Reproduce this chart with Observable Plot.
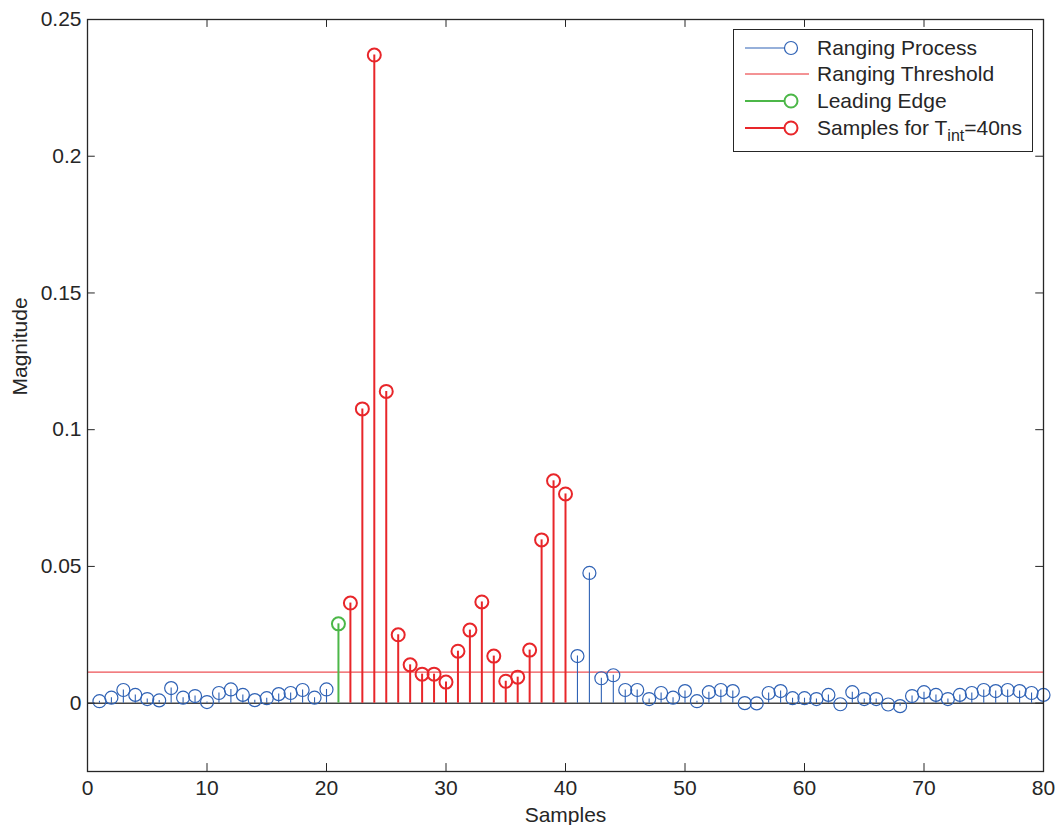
<!DOCTYPE html>
<html>
<head>
<meta charset="utf-8">
<script src="https://cdn.jsdelivr.net/npm/d3@7"></script>
<script src="https://cdn.jsdelivr.net/npm/@observablehq/plot@0.6"></script>
<style>
  html, body { margin: 0; padding: 0; background: #fff; }
  #wrap { position: relative; width: 1055px; height: 825px; font-family: "Liberation Sans", Arial, sans-serif; }
  #legend { position: absolute; left: 733px; top: 29px; width: 300px; height: 123px; border: 1.3px solid #262626; background: #fff; box-sizing: border-box; font-size: 21px; color: #262626; }
  .row { position: absolute; left: 0; height: 27px; display: flex; align-items: center; }
  .row svg { margin-left: 11px; }
  .row span { margin-left: 22px; white-space: nowrap; }
  sub { font-size: 16px; vertical-align: -6px; line-height: 0; }
</style>
</head>
<body>
<div id="wrap"></div>
<script>
// ---- data ----
const samples = [1,2,3,4,5,6,7,8,9,10,11,12,13,14,15,16,17,18,19,20,
  21,22,23,24,25,26,27,28,29,30,31,32,33,34,35,36,37,38,39,40,
  41,42,43,44,45,46,47,48,49,50,51,52,53,54,55,56,57,58,59,60,
  61,62,63,64,65,66,67,68,69,70,71,72,73,74,75,76,77,78,79,80];
const magnitude = [0.0007,0.0020,0.0048,0.0030,0.0015,0.0010,0.0055,0.0020,0.0026,0.0004,
  0.0037,0.0050,0.0030,0.0011,0.0018,0.0033,0.0037,0.0048,0.0020,0.0050,
  0.0290,0.0366,0.1076,0.2370,0.1140,0.0250,0.0140,0.0106,0.0106,0.0077,
  0.0190,0.0267,0.0370,0.0172,0.0080,0.0095,0.0194,0.0597,0.0813,0.0765,
  0.0172,0.0476,0.0091,0.0102,0.0048,0.0048,0.0015,0.0037,0.0020,0.0044,
  0.0007,0.0040,0.0048,0.0044,0.0000,-0.0001,0.0037,0.0044,0.0018,0.0018,
  0.0015,0.0030,-0.0004,0.0040,0.0015,0.0015,-0.0005,-0.0011,0.0026,0.0040,
  0.0030,0.0015,0.0030,0.0037,0.0048,0.0044,0.0048,0.0044,0.0037,0.0030];
const leadingEdge = [21];
const tintSamples = [22,23,24,25,26,27,28,29,30,31,32,33,34,35,36,37,38,39,40];
const threshold = [0.01135];
const xTicks = [0,10,20,30,40,50,60,70,80];
const yTicks = [0,0.05,0.1,0.15,0.2,0.25];
const yTickLabels = ["0","0.05","0.1","0.15","0.2","0.25"];
const xDomain = [0, 80];
const yDomain = [-0.025, 0.25];

const BLUE = "#2f62b5", RED = "#e8262a", GREEN = "#4cb748", INK = "#262626";

const data = samples.map((s, i) => ({
  x: s, y: magnitude[i],
  g: leadingEdge.includes(s) ? "le" : tintSamples.includes(s) ? "tint" : "proc"
}));
const proc = data.filter(d => d.g === "proc");
const le = data.filter(d => d.g === "le");
const tint = data.filter(d => d.g === "tint");

const tx = 0.0029;   // tick length in y units (~8px)
const ty = 0.65;     // tick length in x units (~8px)

const chart = Plot.plot({
  width: 1055, height: 825,
  marginLeft: 87, marginRight: 12, marginTop: 19, marginBottom: 54,
  style: { fontFamily: "'Liberation Sans', Arial, sans-serif", fontSize: "21px", color: INK, background: "#fff" },
  x: { domain: xDomain },
  y: { domain: yDomain },
  marks: [
    Plot.ruleY(threshold, { y: d => d, stroke: RED, strokeWidth: 1 }),
    Plot.ruleY([0], { stroke: "#444", strokeWidth: 1.5 }),
    Plot.ruleX(proc, { x: "x", y1: 0, y2: "y", stroke: BLUE, strokeWidth: 1.1 }),
    Plot.dot(proc, { x: "x", y: "y", r: 6.5, stroke: BLUE, strokeWidth: 1.2, fill: "none" }),
    Plot.ruleX(le, { x: "x", y1: 0, y2: "y", stroke: GREEN, strokeWidth: 2 }),
    Plot.dot(le, { x: "x", y: "y", r: 6.5, stroke: GREEN, strokeWidth: 2, fill: "none" }),
    Plot.ruleX(tint, { x: "x", y1: 0, y2: "y", stroke: RED, strokeWidth: 2 }),
    Plot.dot(tint, { x: "x", y: "y", r: 6.5, stroke: RED, strokeWidth: 2, fill: "none" }),
    // inward ticks
    Plot.ruleX(xTicks, { x: d => d, y1: yDomain[0], y2: yDomain[0] + tx, stroke: INK, strokeWidth: 1 }),
    Plot.ruleX(xTicks, { x: d => d, y1: yDomain[1], y2: yDomain[1] - tx, stroke: INK, strokeWidth: 1 }),
    Plot.ruleY(yTicks, { y: d => d, x1: xDomain[0], x2: xDomain[0] + ty, stroke: INK, strokeWidth: 1 }),
    Plot.ruleY(yTicks, { y: d => d, x1: xDomain[1], x2: xDomain[1] - ty, stroke: INK, strokeWidth: 1 }),
    Plot.frame({ stroke: INK, strokeWidth: 1.3 }),
    Plot.axisX(xTicks, { anchor: "bottom", tickSize: 0, tickPadding: 9, fontSize: 21, label: null, fill: INK }),
    Plot.axisY(yTicks, { anchor: "left", tickSize: 0, tickPadding: 6, fontSize: 21, label: null, fill: INK,
      tickFormat: d => yTickLabels[yTicks.indexOf(d)] }),
    Plot.text(["Samples"], { frameAnchor: "bottom", dy: 44, lineAnchor: "middle", fontSize: 21, fill: INK }),
    Plot.text(["Magnitude"], { frameAnchor: "left", dx: -67, rotate: -90, fontSize: 21, fill: INK })
  ]
});

const wrap = document.getElementById("wrap");
wrap.appendChild(chart);

const entries = [
  { label: "Ranging Process", color: BLUE, marker: true, w: 1.2 },
  { label: "Ranging Threshold", color: RED, marker: false, w: 1 },
  { label: "Leading Edge", color: GREEN, marker: true, w: 2 },
  { label: "Samples for T<sub>int</sub>=40ns", color: RED, marker: true, w: 2 }
];
const legend = document.createElement("div");
legend.id = "legend";
entries.forEach((e, i) => {
  const row = document.createElement("div");
  row.className = "row";
  row.style.top = (4 + i * 26.7) + "px";
  const icon = `<svg width="50" height="16" style="overflow:visible">
    <line x1="0" x2="${e.marker ? 46 : 64}" y1="8" y2="8" stroke="${e.color}" stroke-width="${e.w}"/>
    ${e.marker ? `<circle cx="46" cy="8" r="6.5" fill="#fff" stroke="${e.color}" stroke-width="${e.w}"/>` : ""}
  </svg>`;
  row.innerHTML = icon + `<span>${e.label}</span>`;
  legend.appendChild(row);
});
wrap.appendChild(legend);
</script>
</body>
</html>
